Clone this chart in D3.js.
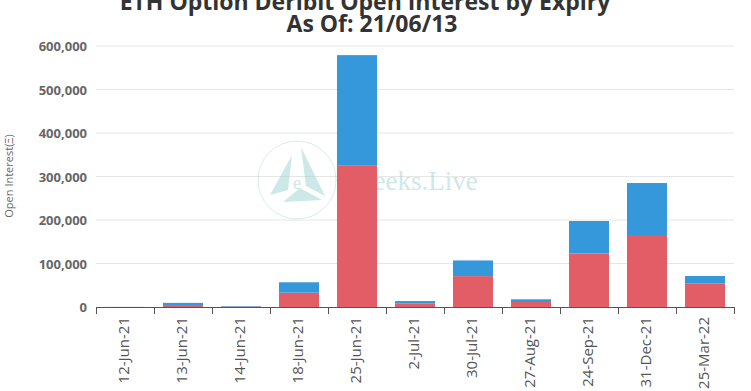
<!DOCTYPE html>
<html><head><meta charset="utf-8">
<script src="https://cdn.jsdelivr.net/npm/d3@7/dist/d3.min.js"></script>
<style>body{margin:0;background:#fff;}svg{display:block;}</style>
</head><body>
<svg id="chart" width="751" height="391"></svg>
<script>
const categories = ["12-Jun-21","13-Jun-21","14-Jun-21","18-Jun-21","25-Jun-21","2-Jul-21","30-Jul-21","27-Aug-21","24-Sep-21","31-Dec-21","25-Mar-22"];
const calls = [200, 4500, 1000, 33000, 326000, 8500, 71000, 11500, 123000, 165500, 54500];
const puts  = [100, 5000, 1200, 23800, 253000, 5300, 36000, 6200, 74700, 119500, 16800];
const yTicks = [0,100000,200000,300000,400000,500000,600000];
const titleLines = ["ETH Option Deribit Open Interest by Expiry","As Of: 21/06/13"];
const yTitle = "Open Interest(Ξ)";

const svg = d3.select("#chart");
const m = {l:96, r:734, t:46, b:307};
const x = d3.scaleBand().domain(categories).range([m.l, m.r]).paddingInner(0.31).paddingOuter(0.155);
const xb = d3.scaleBand().domain(categories).range([m.l, m.r]);
const y = d3.scaleLinear().domain([0,600000]).range([m.b, m.t]);

// grid
svg.append("g").selectAll("line").data(yTicks.slice(1)).join("line")
  .attr("x1", m.l).attr("x2", m.r).attr("y1", d=>y(d)).attr("y2", d=>y(d))
  .attr("stroke","#e6e6e6").attr("stroke-width",1);

// watermark
const wm = svg.append("g").attr("opacity",0.45);
wm.append("circle").attr("cx",297).attr("cy",180).attr("r",39).attr("fill","none").attr("stroke","#a9d9d6").attr("stroke-width",1);
wm.append("path").attr("d","M292,155 L270,195 L288,190 Z").attr("fill","#8fd0cb");
wm.append("path").attr("d","M301,147 L325,196 L306,186 Z").attr("fill","#8fd0cb");
wm.append("path").attr("d","M283,202 L322,200 L300,188 Z").attr("fill","#8fd0cb");
wm.append("text").attr("x",293).attr("y",189).attr("font-family","Liberation Serif, serif").attr("font-size",18).attr("fill","#8fd0cb").text("e");
wm.append("text").attr("x",345).attr("y",190).attr("font-family","Liberation Serif, serif").attr("font-size",27).attr("fill","#8fd0cb").text("Greeks.Live");

// bars
const bars = svg.append("g");
bars.selectAll("rect.c").data(categories).join("rect").attr("class","c")
  .attr("x", d=>x(d)).attr("width", x.bandwidth())
  .attr("y", (d,i)=>y(calls[i])).attr("height",(d,i)=>y(0)-y(calls[i]))
  .attr("fill","#e35d67");
bars.selectAll("rect.p").data(categories).join("rect").attr("class","p")
  .attr("x", d=>x(d)).attr("width", x.bandwidth())
  .attr("y", (d,i)=>y(calls[i]+puts[i])).attr("height",(d,i)=>y(calls[i])-y(calls[i]+puts[i]))
  .attr("fill","#3498db");

// x axis
const xAxis = svg.append("g");
xAxis.append("line").attr("x1",m.l).attr("x2",m.r).attr("y1",m.b+0.5).attr("y2",m.b+0.5).attr("stroke","#555");
const edges = categories.map(c=>xb(c)).concat([m.r]);
xAxis.selectAll("line.t").data(edges).join("line").attr("class","t")
  .attr("x1",d=>Math.round(d)+0.5).attr("x2",d=>Math.round(d)+0.5).attr("y1",m.b).attr("y2",m.b+7).attr("stroke","#555");
xAxis.selectAll("text").data(categories).join("text")
  .attr("transform", d=>`translate(${x(d)+x.bandwidth()/2+3.5},317) rotate(-90)`)
  .attr("text-anchor","end").attr("font-family","Open Sans, sans-serif").attr("font-size",15).attr("fill","#555")
  .text(d=>d);

// y axis labels
svg.append("g").selectAll("text").data(yTicks).join("text")
  .attr("x",87).attr("y",d=>y(d)+5).attr("text-anchor","end")
  .attr("font-family","Open Sans, sans-serif").attr("font-weight","bold").attr("font-size",13).attr("fill","#666")
  .text(d=>d3.format(",")(d));

svg.append("text").attr("transform","translate(13,176) rotate(-90)").attr("text-anchor","middle")
  .attr("font-family","Open Sans, sans-serif").attr("font-size",11).attr("fill","#666").text(yTitle);

// title
svg.append("g").selectAll("text").data(titleLines).join("text")
  .attr("x",(d,i)=>i===0?365:372).attr("y",(d,i)=>10+i*22).attr("text-anchor","middle")
  .attr("font-family","Open Sans, sans-serif").attr("font-weight","bold").attr("font-size",23).attr("fill","#333")
  .text(d=>d);
</script>
</body></html>
